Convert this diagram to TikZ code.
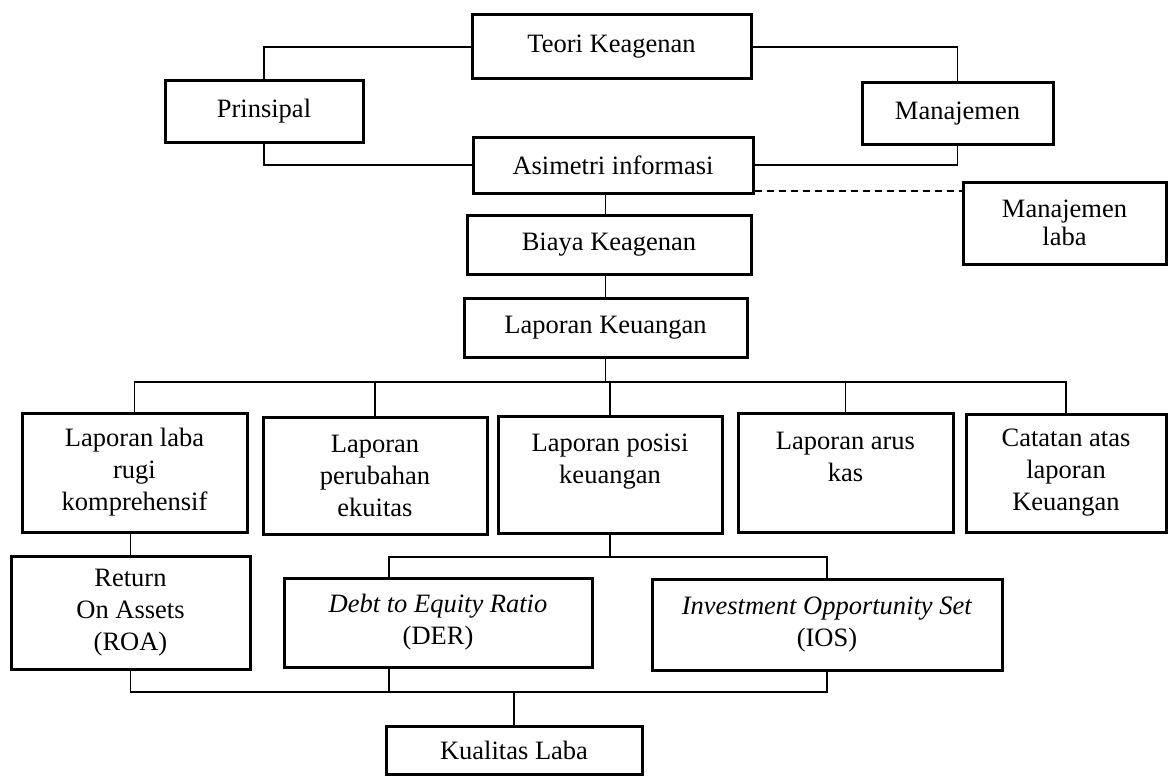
\documentclass[tikz,border=0pt]{standalone}
\usepackage{fontspec}
\setmainfont{Liberation Serif}
\tikzset{
  box/.style={draw, line width=3pt, inner sep=0pt, align=center,
    font=\fontsize{26.5}{32}\selectfont},
  conn/.style={line width=1.4pt},
  dashconn/.style={line width=2pt, dash pattern=on 7pt off 5pt},
}
\begin{document}
\begin{tikzpicture}[x=1pt,y=-1pt]
\useasboundingbox (0,0) rectangle (1168,776);
% top level
\node[box, minimum width=279, minimum height=64] (teori) at (611.5,47) {Teori Keagenan};
\node[box, minimum width=198, minimum height=61] (prin) at (264,111.5) {Prinsipal};
\node[box, minimum width=191, minimum height=61] (man) at (957.5,113.5) {Manajemen};
\node[box, minimum width=280, minimum height=56] (asi) at (613,165) {Asimetri informasi};
\node[box, minimum width=203, minimum height=82, font=\fontsize{26.5}{28}\selectfont] (ml) at (1064.5,223) {Manajemen\\laba};
\node[box, minimum width=284, minimum height=59] (bk) at (609,244.5) {Biaya Keagenan};
\node[box, minimum width=283, minimum height=59] (lk) at (605.5,327.5) {Laporan Keuangan};
% five reports
\node[box, minimum width=225, minimum height=119] (b1) at (134.5,472.5) {Laporan laba\\rugi\\komprehensif};
\node[box, minimum width=224, minimum height=117] (b2) at (375,475.5) {Laporan\\perubahan\\ekuitas};
\node[box, minimum width=224, minimum height=117] (b3) at (610,474.5) {Laporan posisi\\keuangan\\\mbox{}};
\node[box, minimum width=215, minimum height=119] (b4) at (845.5,472.5) {Laporan arus\\kas\\\mbox{}};
\node[box, minimum width=200, minimum height=118] (b5) at (1066,473) {Catatan atas\\laporan\\Keuangan};
% ratios
\node[box, minimum width=239, minimum height=113] (roa) at (130.5,612.5) {Return\\On Assets\\(ROA)};
\node[box, minimum width=308, minimum height=89] (der) at (438,622.5) {\textit{Debt to Equity Ratio}\\(DER)};
\node[box, minimum width=350, minimum height=91] (ios) at (827,624.5) {\textit{Investment Opportunity Set}\\(IOS)};
\node[box, minimum width=256, minimum height=48] (kl) at (514,750) {Kualitas Laba};
% helper coordinates
\coordinate (busT) at (608,382);
\coordinate (busM) at (612,557);
\coordinate (busB) at (513,692);
\coordinate (derx) at (389,622);
% connectors top
\draw[conn] (teori.west) -| (prin.north);
\draw[conn] (teori.east) -| (man.north);
\draw[conn] (prin.south) |- (asi.west);
\draw[conn] (man.south) |- (asi.east);
\draw[dashconn] ([yshift=4pt]asi.south east) -- ([yshift=4pt]asi.south east -| ml.west);
\draw[conn] (asi.south -| lk.north) -- (bk.north -| lk.north);
\draw[conn] (bk.south -| lk.north) -- (lk.north);
% bus to five reports
\draw[conn] (lk.south) -- (lk.south |- busT);
\draw[conn] (b1.north) |- (b5.north |- busT) -- (b5.north);
\draw[conn] (b2.north) -- (b2.north |- busT);
\draw[conn] (b3.north) -- (b3.north |- busT);
\draw[conn] (b4.north) -- (b4.north |- busT);
% second level
\draw[conn] (b1.south -| roa.north) -- (roa.north);
\draw[conn] (b3.south) -- (b3.south |- busM);
\draw[conn] (der.north -| derx) |- (ios.north |- busM) -- (ios.north);
% bottom bus
\draw[conn] (roa.south) |- (ios.south |- busB) -- (ios.south);
\draw[conn] (der.south -| derx) -- (derx |- busB);
\draw[conn] (kl.north) -- (kl.north |- busB);
\end{tikzpicture}
\end{document}
